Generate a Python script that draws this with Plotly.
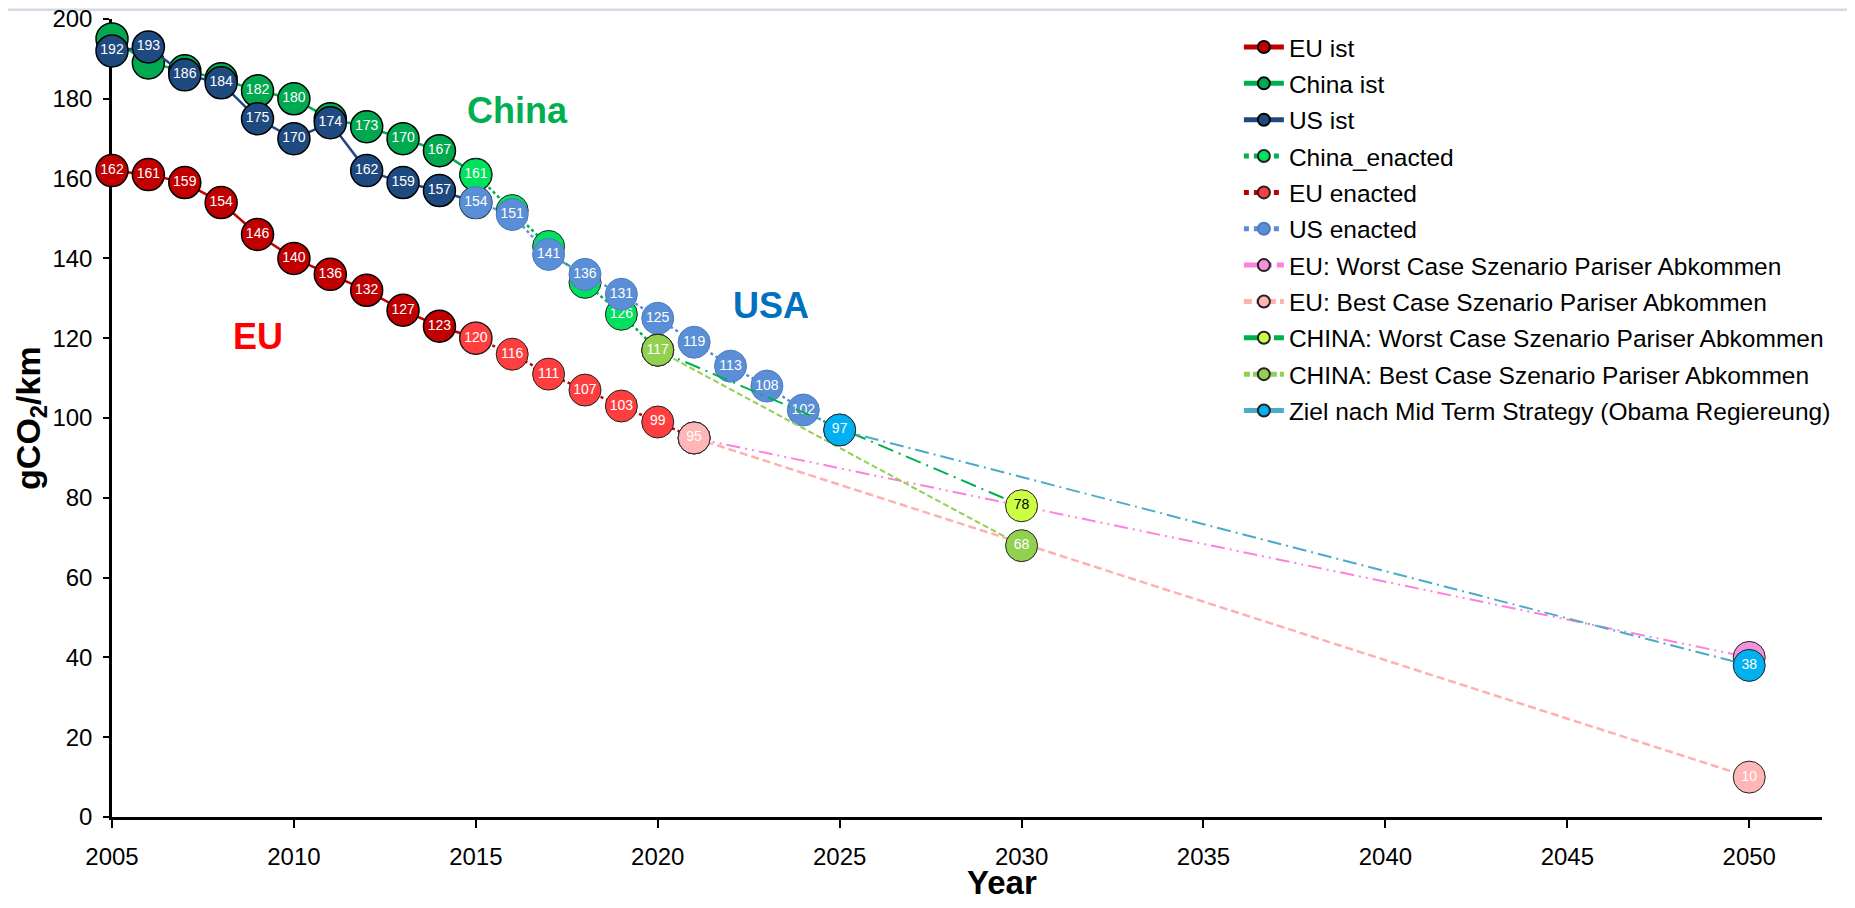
import plotly.graph_objects as go

# ---------------- data ----------------
years_ist = [2005, 2006, 2007, 2008, 2009, 2010, 2011, 2012, 2013, 2014, 2015]
eu_ist = [162, 161, 159, 154, 146, 140, 136, 132, 127, 123, 120]
china_ist = [195, 189, 187, 185, 182, 180, 175, 173, 170, 167, 161]
us_ist = [192, 193, 186, 184, 175, 170, 174, 162, 159, 157, 154]

years_china_enacted = [2015, 2016, 2017, 2018, 2019, 2020]
china_enacted = [161, 152, 143, 134, 126, 117]

years_eu_enacted = [2015, 2016, 2017, 2018, 2019, 2020, 2021]
eu_enacted = [120, 116, 111, 107, 103, 99, 95]

years_us_enacted = [2015, 2016, 2017, 2018, 2019, 2020, 2021, 2022, 2023, 2024, 2025]
us_enacted = [154, 151, 141, 136, 131, 125, 119, 113, 108, 102, 97]

years_eu_scen = [2021, 2050]
eu_worst = [95, 40]
eu_best = [95, 10]

years_china_scen = [2020, 2030]
china_worst = [117, 78]
china_best = [117, 68]

years_us_target = [2025, 2050]
us_target = [97, 38]

# which value labels are visible (others are hidden behind other markers)
show_eu_ist = [True] * 11
show_china_ist = [False, False, False, False, True, True, False, True, True, True, False]
show_us_ist = [True] * 10 + [False]
show_china_enacted = [True, False, False, False, True, False]
show_eu_enacted = [True] * 7
show_us_enacted = [True] * 11

FONT = "Liberation Sans, Arial, sans-serif"

fig = go.Figure()


def add(name, x, y, show, fill, border, bw, lcolor, lw, dash, tcolor):
    text = [str(v) if s else "" for v, s in zip(y, show)]
    fig.add_trace(go.Scatter(
        x=x, y=y, name=name, mode="lines+markers+text", text=text,
        textposition="middle center",
        textfont=dict(color=tcolor, size=14, family=FONT),
        marker=dict(size=32, color=fill, line=dict(color=border, width=bw)),
        line=dict(color=lcolor, width=lw, dash=dash),
        legendgroup=name, cliponaxis=False, hoverinfo="x+y+name"))


add("EU ist", years_ist, eu_ist, show_eu_ist, "#C00000", "#000000", 1.5, "#C00000", 2.5, "solid", "white")
add("China ist", years_ist, china_ist, show_china_ist, "#00A94F", "#000000", 1.5, "#00B050", 2.5, "solid", "white")
add("US ist", years_ist, us_ist, show_us_ist, "#1F4A80", "#000000", 1.5, "#1F4A80", 2.5, "solid", "white")
add("China_enacted", years_china_enacted, china_enacted, show_china_enacted, "#00E15C", "#222222", 1,
    "#00B050", 2.5, "dot", "white")
add("EU enacted", years_eu_enacted, eu_enacted, show_eu_enacted, "#FF3F3F", "#222222", 1,
    "#C00000", 2.5, "dot", "white")
add("US enacted", years_us_enacted, us_enacted, show_us_enacted, "#5A8ED6", "#4A7CC0", 1,
    "#5A8ED6", 2.5, "dot", "white")
add("EU: Worst Case Szenario Pariser Abkommen", years_eu_scen, eu_worst, [False, False], "#F590DA", "#222222", 1,
    "#FF80DD", 2, "14px,5px,2px,5px,2px,5px", "white")
add("EU: Best Case Szenario Pariser Abkommen", years_eu_scen, eu_best, [True, True], "#FFB6B6", "#222222", 1,
    "#FFB0B0", 2.5, "8px,4px", "white")
add("CHINA: Worst Case Szenario Pariser Abkommen", years_china_scen, china_worst, [False, True], "#CCFF44", "#222222", 1,
    "#00B050", 2, "16px,6px,2px,6px", "black")
add("CHINA: Best Case Szenario Pariser Abkommen", years_china_scen, china_best, [True, True], "#92D050", "#222222", 1,
    "#92D050", 2, "6px,3px", "white")
add("Ziel nach Mid Term Strategy (Obama Regiereung)", years_us_target, us_target, [True, True], "#00B0F0", "#222222", 1,
    "#4BACC6", 2, "14px,5px,2px,5px", "white")

annotations = [
    dict(x=2016.15, y=177, xref="x", yref="y", text="<b>China</b>", showarrow=False,
         font=dict(size=36, color="#00B050", family=FONT)),
    dict(x=2023.1, y=128.2, xref="x", yref="y", text="<b>USA</b>", showarrow=False,
         font=dict(size=36, color="#0070C0", family=FONT)),
    dict(x=2009.0, y=120.4, xref="x", yref="y", text="<b>EU</b>", showarrow=False,
         font=dict(size=36, color="#FF0000", family=FONT)),
    dict(x=0.5205, y=-0.0815, xref="paper", yref="paper", text="<b>Year</b>", showarrow=False,
         xanchor="center", yanchor="middle", font=dict(size=33, color="black", family=FONT)),
    dict(x=-0.048, y=0.5, xref="paper", yref="paper", text="<b>gCO<sub>2</sub>/km</b>", showarrow=False,
         textangle=-90, xanchor="center", yanchor="middle", font=dict(size=34, color="black", family=FONT)),
]

fig.update_layout(
    margin=dict(l=104, r=25, t=11, b=83),
    paper_bgcolor="white", plot_bgcolor="white",
    font=dict(family=FONT, color="black"),
    showlegend=True,
    legend=dict(x=0.659, y=0.993, xanchor="left", yanchor="top", font=dict(size=24.5, family=FONT, color="black"),
                itemsizing="constant", itemwidth=40, tracegroupgap=1.5, bgcolor="rgba(0,0,0,0)"),
    annotations=annotations,
    shapes=[dict(type="line", xref="paper", yref="paper", x0=-0.07, x1=1.02, y0=1.0115, y1=1.0115,
                 layer="below", line=dict(color="#D3DAE5", width=2.5))],
    xaxis=dict(range=[2005, 2052], tickmode="array", tickvals=list(range(2005, 2051, 5)),
               ticks="outside", ticklen=8, tickwidth=2, tickcolor="black",
               showline=True, linewidth=2.5, linecolor="black", showgrid=False, zeroline=False,
               tickfont=dict(size=24, family=FONT, color="black"), ticklabelstandoff=8,
               ticklabeloverflow="allow", automargin=False, layer="below traces"),
    yaxis=dict(range=[0, 200], tickmode="linear", tick0=0, dtick=20,
               ticks="outside", ticklen=6, tickwidth=2, tickcolor="black",
               showline=True, linewidth=2.5, linecolor="black", showgrid=False, zeroline=False,
               tickfont=dict(size=24, family=FONT, color="black"), ticklabelstandoff=6,
               ticklabeloverflow="allow", automargin=False, layer="below traces"),
)

fig.write_html("out.html")
